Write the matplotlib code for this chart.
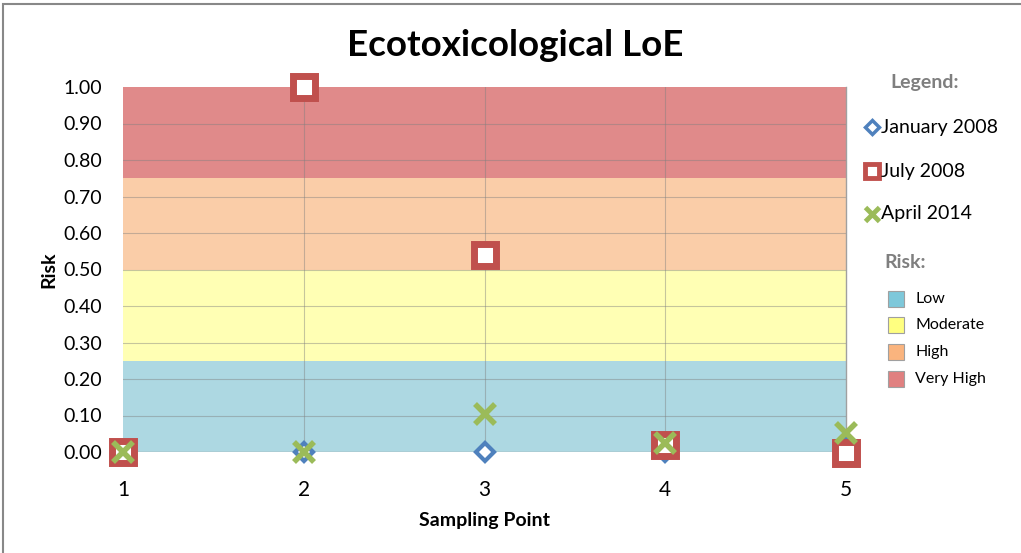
import matplotlib
matplotlib.use("Agg")
import matplotlib.pyplot as plt
from matplotlib.patches import Rectangle

plt.rcParams['font.family'] = ['Lato', 'DejaVu Sans']

points = [1, 2, 3, 4, 5]
jan_2008 = [0.0, 0.0, 0.0, 0.0, 0.01]
jul_2008 = [0.0, 1.0, 0.54, 0.02, -0.004]
apr_2014 = [0.0, 0.0, 0.105, 0.025, 0.052]
series_names = ["January 2008", "July 2008", "April 2014"]

risk_names = ["Low", "Moderate", "High", "Very High"]
risk_bounds = [0.0, 0.25, 0.5, 0.75, 1.0]
band_colors = ["#ADD8E2", "#FFFFB4", "#FACDA8", "#E08A8A"]
patch_colors = ["#7EC8DA", "#FFFF80", "#FAB47E", "#E08080"]
y_ticks = [i / 10 for i in range(11)]

fig = plt.figure(figsize=(10.21, 5.53), dpi=100)
ax = fig.add_axes([123 / 1021, 1 - 452 / 553, (846 - 123) / 1021, (452 - 87) / 553])

for lo, hi, c in zip(risk_bounds[:-1], risk_bounds[1:], band_colors):
    ax.axhspan(lo, hi, color=c, zorder=0, lw=0)

ax.set_xlim(1, 5)
ax.set_ylim(0, 1)
ax.set_yticks(y_ticks)
ax.set_yticklabels([f"{v:.2f}" for v in y_ticks])
ax.set_xticks(points)
ax.set_xticklabels([str(p) for p in points])
for v in y_ticks[1:-1]:
    ax.axhline(v, color="#808080", lw=0.8, alpha=0.45, zorder=1)
for p in points[1:-1]:
    ax.axvline(p, color="#808080", lw=0.8, alpha=0.45, zorder=1)
for s in ["top", "left", "bottom"]:
    ax.spines[s].set_visible(False)
ax.spines["right"].set_color("#A0A0A0")
ax.spines["right"].set_linewidth(1)
ax.axhline(0, color="#A0A0A0", lw=1, zorder=1)
ax.tick_params(axis="y", length=0, labelsize=14, pad=15)
ax.tick_params(axis="x", length=0, labelsize=15, pad=20)

ax.plot(points, jan_2008, ls="none", marker="D", ms=9, mfc="white", mec="#4F81BD",
        mew=3, clip_on=False, zorder=3)
ax.plot(points, jul_2008, ls="none", marker="s", ms=16, mfc="white", mec="#C0504D",
        mew=5, clip_on=False, zorder=4)
ax.plot(points, apr_2014, ls="none", marker="x", ms=15, mec="#9BBB59",
        mew=4, clip_on=False, zorder=5)

ax.set_xlabel("Sampling Point", fontsize=14, fontweight="bold", labelpad=9)
ax.set_ylabel("Risk", fontsize=14, fontweight="bold", labelpad=4)
fig.text(515 / 1021, 1 - 45 / 553, "Ecotoxicological LoE", ha="center", va="center",
         fontsize=26.5, fontweight="bold")

# custom legend
fig.text(925 / 1021, 1 - 82 / 553, "Legend:", ha="center", va="center",
         fontsize=14, fontweight="bold", color="#7F7F7F")
leg_y = [127, 171, 214]
mk = [dict(marker="D", ms=7, mfc="white", mec="#4F81BD", mew=2.5),
      dict(marker="s", ms=10, mfc="white", mec="#C0504D", mew=3.5),
      dict(marker="x", ms=10, mec="#9BBB59", mew=3.5)]
for name, y, m in zip(series_names, leg_y, mk):
    fig.lines.append(plt.Line2D([872 / 1021], [1 - y / 553], transform=fig.transFigure,
                                ls="none", **m))
    fig.text(881 / 1021, 1 - y / 553, name, ha="left", va="center", fontsize=14)

fig.text(905 / 1021, 1 - 262 / 553, "Risk:", ha="center", va="center",
         fontsize=14, fontweight="bold", color="#7F7F7F")
patch_y = [299, 325, 352, 379]
for name, y, c in zip(risk_names, patch_y, patch_colors):
    fig.patches.append(Rectangle((888 / 1021, 1 - (y + 8) / 553), 16 / 1021, 16 / 553,
                                 transform=fig.transFigure, facecolor=c,
                                 edgecolor="#A0A0A0", lw=0.8))
    fig.text(915 / 1021, 1 - y / 553, name, ha="left", va="center", fontsize=11.5)

fig.patches.append(Rectangle((3 / 1021, -0.01), 1.02, 1 - 4 / 553 + 0.01,
                             transform=fig.transFigure, fill=False,
                             edgecolor="#888888", lw=1.5))

fig.savefig("out.png", dpi=100, facecolor="white")
